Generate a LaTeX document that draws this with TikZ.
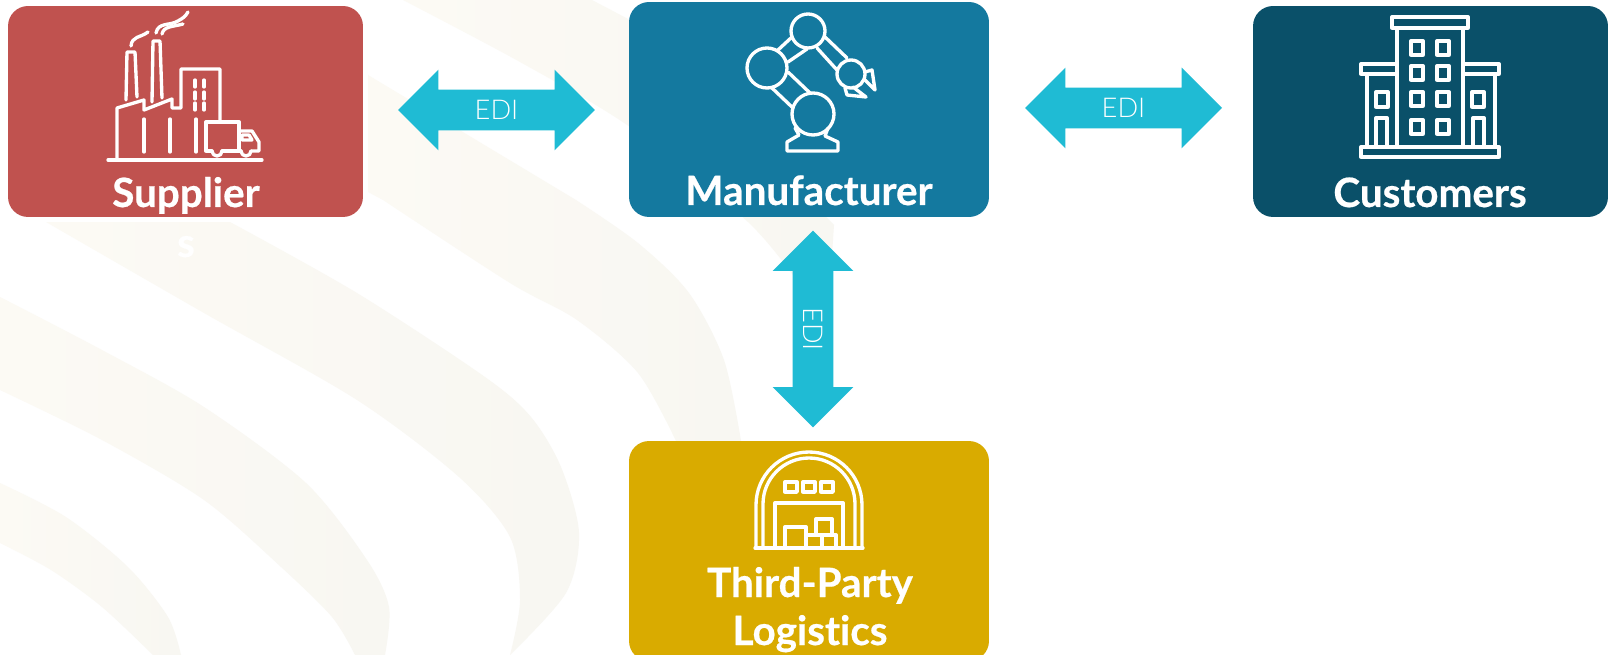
\documentclass[tikz,border=0pt]{standalone}
\usepackage{fontspec}
\setmainfont[Ligatures=NoCommon,BoldFeatures={FakeBold=0.5}]{Lato}
\newfontfamily\edifont{Lato Light}
\usetikzlibrary{shapes.arrows}
\definecolor{supplierRed}{HTML}{C0524F}
\definecolor{makerBlue}{HTML}{14799F}
\definecolor{customerBlue}{HTML}{0A5069}
\definecolor{logisticsGold}{HTML}{D9AB00}
\definecolor{ediCyan}{HTML}{1FBBD4}
\definecolor{stripeLeft}{HTML}{FCFAF4}
\definecolor{stripeRight}{HTML}{F8F7F2}
\tikzset{
  stripe/.style={left color=stripeLeft,right color=stripeRight,draw=none},
  card/.style={rectangle,rounded corners=0.4cm,draw=none,inner sep=0pt},
  title/.style={anchor=base,text=white,inner sep=0pt,font=\fontsize{23}{26}\selectfont\bfseries},
  edi/.style={shape=double arrow,fill=ediCyan,text=white,draw=none,
    double arrow tip angle=90,double arrow head extend=0.4cm,double arrow head indent=0cm,
    minimum height=3.94cm,inner xsep=0pt,inner ysep=0.2cm,
    text height=0.4cm,text depth=0cm,font=\fontsize{15.5}{18}\selectfont\edifont},
  icon/.style={draw=white,line width=1.9pt,line join=round,line cap=round}
}
\begin{document}
\begin{tikzpicture}[x=0.02cm,y=-0.02cm]
  \useasboundingbox (0,0) rectangle (1608,655);
  \fill[white] (0,0) rectangle (1608,655);

  \shade[stripe] plot[smooth] coordinates {(403,0) (520,62) (630,127) (748,222) (800,285)}
    -- (830,285) -- (834,225) -- (630,20) -- (592,0) -- cycle;
  \shade[stripe] (368,75) -- (576,200) -- plot[smooth] coordinates {(576,200) (638,243) (689,293) (724,360) (741,441)}
    -- (676,441) -- plot[smooth] coordinates {(676,441) (638,373) (577,320) (510,283) (383,200)} -- (368,192) -- cycle;
  \shade[stripe] plot[smooth] coordinates {(230,222) (357,293) (485,377) (531,417) (561,467) (579,533) (566,593) (510,655)}
    -- plot[smooth] coordinates {(510,655) (520,600) (510,537) (459,477) (357,400) (204,313) (46,222)} -- cycle;
  \shade[stripe] plot[smooth] coordinates {(0,297) (102,350) (204,407) (306,483) (367,560) (389,607) (385,655)}
    -- (355,655) -- plot[smooth] coordinates {(355,655) (332,617) (281,567) (204,500) (102,440) (0,390)} -- cycle;
  \shade[stripe] plot[smooth] coordinates {(0,483) (66,517) (128,567) (168,617) (181,655)}
    -- (153,655) -- plot[smooth] coordinates {(153,655) (102,607) (51,570) (0,543)} -- cycle;

  \node[card,fill=supplierRed,minimum width=7.1cm,minimum height=4.22cm] (supplier) at (185.5,111.5) {};
  \node[card,fill=makerBlue,minimum width=7.2cm,minimum height=4.3cm] (manufacturer) at (809,109.5) {};
  \node[card,fill=customerBlue,minimum width=7.1cm,minimum height=4.22cm] (customers) at (1430.5,111.5) {};
  \node[card,fill=logisticsGold,minimum width=7.2cm,minimum height=4.4cm] (logistics) at (809,551) {};

  \node[title] (supplierTitle) at (186,207) {Supplier};
  \node[title] (supplierRest) at (186,257) {s};
  \node[title] (manufacturerTitle) at (809,205) {Manufacturer};
  \node[title] (customersTitle) at (1430,207) {Customers};
  \node[title] (logisticsTitle) at (810,597) {Third-Party};
  \node[title] (logisticsRest) at (810,645) {Logistics};

  \node[edi] (ediSupplier) at (496.5,110) {EDI};
  \node[edi] (ediCustomers) at (1123.5,108) {EDI};
  \node[edi,rotate=-90] (ediLogistics) at (813,329) {EDI};

  \draw[icon] (108,160) -- (262,160);
  \draw[icon] (117,159) -- (117,108) -- (144,100) -- (144,110) -- (172,99) -- (172,108) -- (181,108) -- (181,69) -- (220,69) -- (220,122);
  \foreach \barx in {144,170,196}
    \draw[icon] (\barx,119) -- (\barx,152);
  \foreach \winx in {195,204}
    \foreach \winy in {80,92,103}
      \draw[icon] (\winx,\winy) -- (\winx,\winy+7);
  \draw[icon] (126,100) -- (127,52) -- (135,52) -- (137,97);
  \draw[icon] (152,102) -- (153,41) -- (160,41) -- (162,98);
  \draw[icon] (131,46) .. controls (132,36) and (140,38) .. (148,32);
  \draw[icon] (156,33) .. controls (158,22) and (170,26) .. (178,21) .. controls (183,18) and (185,17) .. (188,12);
  \draw[icon] (162,34) .. controls (164,26) and (172,27) .. (183,24);
  \draw[icon] (212,151) -- (206,151) -- (206,122) -- (239,122) -- (239,151);
  \draw[icon] (222,151) -- (241,151);
  \draw[icon] (239,131) -- (252,131) -- (259,142) -- (259,151) -- (251,151);
  \draw[icon] (212,151) arc (180:0:5);
  \draw[icon] (241,151) arc (180:0:5);
  \draw[icon] (242,135) -- (249,135) -- (252,140) -- (242,140) -- cycle;

  \draw[icon] (808,31) circle (17);
  \draw[icon] (767,68) circle (20);
  \draw[icon] (813,114) circle (21);
  \draw[icon] (851,74) circle (14);
  \draw[icon] (778,50) -- (792,37);
  \draw[icon] (788,62) -- (807,49);
  \draw[icon] (772,88) -- (793,108);
  \draw[icon] (788,72) -- (810,93);
  \draw[icon] (825,37) -- (847,58);
  \draw[icon] (817,48) -- (837,70);
  \draw[icon] (865,72) -- (872,70) -- (875,90) -- (865,80);
  \draw[icon] (853,87) -- (866,97) -- (847,95) -- (845,88);
  \draw[icon] (795,128) -- (799,135) -- (787,142) -- (787,151) -- (838,151) -- (838,142) -- (825,136) -- (828,128);

  \draw[icon] (1392,17) rectangle (1468,28);
  \draw[icon] (1397,28) -- (1397,147);
  \draw[icon] (1463,28) -- (1463,147);
  \draw[icon] (1397,64) -- (1361,64) -- (1361,74) -- (1397,74);
  \draw[icon] (1463,64) -- (1499,64) -- (1499,74) -- (1463,74);
  \draw[icon] (1367,74) -- (1367,147);
  \draw[icon] (1495,74) -- (1495,147);
  \draw[icon] (1361,147) rectangle (1499,157);
  \foreach \winx in {1417,1443}
    \foreach \winy in {48,73,99,127}
      \draw[icon] (\winx-6,\winy-7) rectangle (\winx+6,\winy+7);
  \foreach \winx in {1382,1478}
    \draw[icon] (\winx-6,92) rectangle (\winx+6,107);
  \draw[icon] (1376,147) -- (1376,118) -- (1387,118) -- (1387,147);
  \draw[icon] (1473,147) -- (1473,118) -- (1484,118) -- (1484,147);

  \draw[icon] (755,548) -- (863,548);
  \draw[icon] (756,548) -- (756,505) arc (180:360:53) -- (862,548);
  \draw[icon] (763,548) -- (763,504) arc (180:360:46) -- (855,548);
  \foreach \winx in {785,803,821}
    \draw[icon] (\winx,482) rectangle (\winx+12,492);
  \draw[icon] (775,547) -- (775,503) -- (843,503) -- (843,547);
  \draw[icon] (785,547) -- (785,527) -- (806,527) -- (806,547);
  \draw[icon] (806,535) -- (836,535) -- (836,547);
  \draw[icon] (822,535) -- (822,547);
  \draw[icon] (816,535) -- (816,519) -- (832,519) -- (832,535);
\end{tikzpicture}
\end{document}
